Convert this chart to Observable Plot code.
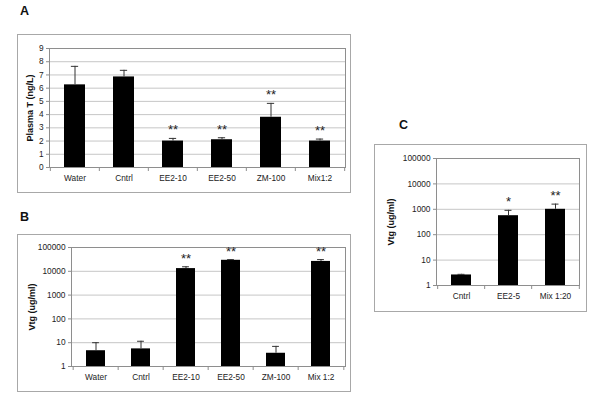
<!DOCTYPE html>
<html><head><meta charset="utf-8">
<script src="https://cdn.jsdelivr.net/npm/d3@7"></script>
<script src="https://cdn.jsdelivr.net/npm/@observablehq/plot@0.6"></script>
<style>
body{margin:0;background:#fff;font-family:"Liberation Sans",Arial,sans-serif}
#root{position:relative;width:600px;height:405px;overflow:hidden;background:#fff}
.frame{position:absolute;border:1px solid #a8a8a8;box-sizing:border-box}
.letter{position:absolute;font-weight:bold;font-size:12.5px;line-height:1;color:#111}
.panel{position:absolute}
</style></head><body><div id="root"></div>
<script>
// ---- data ----
const catsA = ["Water","Cntrl","EE2-10","EE2-50","ZM-100","Mix1:2"];
const meanA = [6.25, 6.85, 2.0, 2.1, 3.8, 2.0];
const errA  = [7.65, 7.35, 2.2, 2.25, 4.85, 2.15];
const sigA  = ["", "", "**", "**", "**", "**"];
const ticksA = [0,1,2,3,4,5,6,7,8,9];
const labelA = "Plasma T (ng/L)";

const catsB = ["Water","Cntrl","EE2-10","EE2-50","ZM-100","Mix 1:2"];
const meanB = [4.6, 5.5, 13000, 29000, 3.6, 26000];
const errB  = [10, 11.5, 15500, 31000, 7, 31000];
const sigB  = ["", "", "**", "**", "", "**"];

const catsC = ["Cntrl","EE2-5","Mix 1:20"];
const meanC = [2.6, 560, 1000];
const errC  = [2.75, 910, 1600];
const sigC  = ["", "*", "**"];

const logTicks = [1, 10, 100, 1000, 10000, 100000];
const labelVtg = "Vtg (ug/ml)";

// ---- drawing ----
const root = document.getElementById("root");

function panel(cfg) {
  const {cats, mean, err, sig, ticks, label, type, domain, left, top, width, height, m, labelDx, letter, letterPos} = cfg;
  const rows = cats.map((c, i) => ({cat: c, mean: mean[i], err: err[i], sig: sig[i]}));
  const plotW = width - m.left - m.right;
  const plotH = height - m.top - m.bottom;
  const step = plotW / cats.length;
  const bw = step * 0.42;
  const capInset = (bw - 7) / 2;
  const base = domain[0];

  const fr = document.createElement("div");
  fr.className = "frame";
  Object.assign(fr.style, {left: left + "px", top: top + "px", width: width + "px", height: height + "px"});
  root.appendChild(fr);

  const lt = document.createElement("div");
  lt.className = "letter";
  lt.textContent = letter;
  Object.assign(lt.style, {left: letterPos[0] + "px", top: letterPos[1] + "px"});
  root.appendChild(lt);

  const chart = Plot.plot({
    width, height,
    marginLeft: m.left, marginRight: m.right, marginTop: m.top, marginBottom: m.bottom,
    style: {fontFamily: "Liberation Sans, Arial, sans-serif", fontSize: "8.3px", background: "transparent", color: "#222"},
    x: {type: "band", domain: cats, paddingInner: 0.58, paddingOuter: 0.29},
    y: {type, domain},
    marks: [
      Plot.gridY(ticks, {stroke: "#c6c6c6", strokeOpacity: 1}),
      Plot.frame({stroke: "#8e8e8e"}),
      Plot.ruleX(cats, {x: d => d, dx: -step / 2, insetTop: plotH, insetBottom: -4, stroke: "#8e8e8e"}),
      Plot.ruleX(cats.slice(-1), {x: d => d, dx: step / 2, insetTop: plotH, insetBottom: -4, stroke: "#8e8e8e"}),
      Plot.barY(rows, {x: "cat", y1: base, y2: "mean", fill: "#000"}),
      Plot.ruleX(rows, {x: "cat", y1: "mean", y2: "err", stroke: "#333"}),
      Plot.tickY(rows, {x: "cat", y: "err", stroke: "#333", insetLeft: capInset, insetRight: capInset}),
      Plot.text(rows, {x: "cat", y: "err", text: "sig", dy: -4, lineAnchor: "bottom", fontSize: 13, fill: "#222", fontFamily: "Liberation Sans, Arial, sans-serif"}),
      Plot.axisY({ticks, tickSize: 3, tickPadding: 3, tickFormat: d => String(d), label: null, stroke: "#8e8e8e", fill: "#222"}),
      Plot.axisX({tickSize: 0, tickPadding: 8, label: null, fill: "#222"}),
      Plot.text([label], {frameAnchor: "left", rotate: -90, dx: labelDx, textAnchor: "middle", fontWeight: "bold", fontSize: 9, fill: "#111"})
    ]
  });
  const wrap = document.createElement("div");
  wrap.className = "panel";
  Object.assign(wrap.style, {left: left + "px", top: top + "px"});
  wrap.appendChild(chart);
  root.appendChild(wrap);
}

panel({cats: catsA, mean: meanA, err: errA, sig: sigA, ticks: ticksA, label: labelA,
  type: "linear", domain: [0, 9], left: 17, top: 34, width: 334, height: 159,
  m: {left: 32, right: 6, top: 14, bottom: 26}, labelDx: -19, letter: "A", letterPos: [20, 5]});

panel({cats: catsB, mean: meanB, err: errB, sig: sigB, ticks: logTicks, label: labelVtg,
  type: "log", domain: [1, 100000], left: 17, top: 234, width: 334, height: 158,
  m: {left: 54, right: 6, top: 13, bottom: 26}, labelDx: -39, letter: "B", letterPos: [20, 211]});

panel({cats: catsC, mean: meanC, err: errC, sig: sigC, ticks: logTicks, label: labelVtg,
  type: "log", domain: [1, 100000], left: 374, top: 144, width: 213, height: 168,
  m: {left: 62, right: 8, top: 14, bottom: 27}, labelDx: -45.5, letter: "C", letterPos: [399, 119]});
</script>
</body></html>
